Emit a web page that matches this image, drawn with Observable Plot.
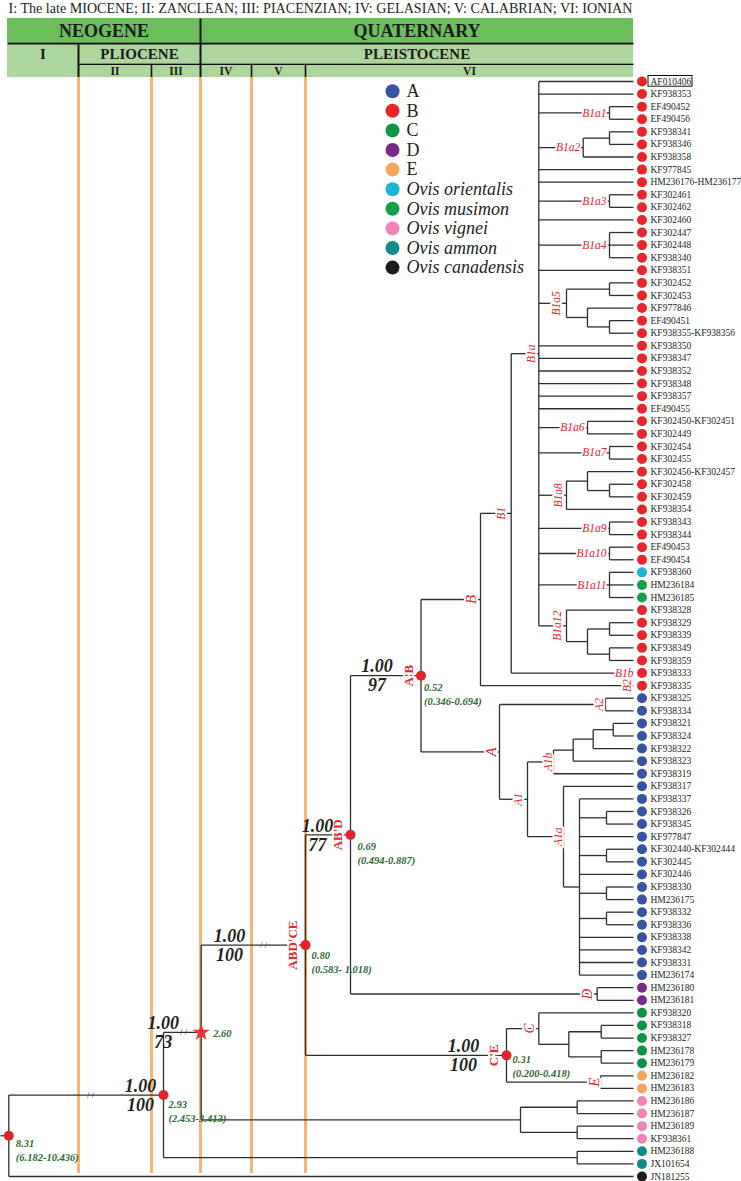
<!DOCTYPE html>
<html><head><meta charset="utf-8">
<script src="https://cdn.jsdelivr.net/npm/d3@7"></script>
<script src="https://cdn.jsdelivr.net/npm/@observablehq/plot@0.6"></script>
<style>body{margin:0;background:#fff}#chart svg{display:block}</style>
</head><body><div id="chart"></div>
<script>
// ---------------- DATA ----------------
const title = "I: The late MIOCENE; II: ZANCLEAN; III: PIACENZIAN; IV: GELASIAN; V: CALABRIAN; VI: IONIAN";
// stage boundaries on the tree's depth axis (left edge of I ... present)
const stageEdges = [7, 78, 151, 200, 251, 305, 633];
const stageNames = ["I", "II", "III", "IV", "V", "VI"];
const epochNames = ["I", "PLIOCENE", "PLEISTOCENE"];
const epochSpan = [[0, 1], [1, 3], [3, 6]];
const eraNames = ["NEOGENE", "QUATERNARY"];
const eraSpan = [[0, 3], [3, 6]];

// internal nodes: [id, parent, depth position]
const internalNodes = [
  ["root", null, 8.3], ["n293", "root", 163], ["star", "n293", 200.7],
  ["abdce", "star", 305], ["abd", "abdce", 350], ["ab", "abd", 420.5],
  ["B", "ab", 480], ["B1", "B", 510.7], ["B1a", "B1", 538.3],
  ["B1a1", "B1a", 609], ["B1a2", "B1a", 582.7], ["B1a2i", "B1a2", 609],
  ["B1a3", "B1a", 609], ["B1a4", "B1a", 609],
  ["B1a5", "B1a", 566], ["B1a5a", "B1a5", 609], ["B1a5b", "B1a5", 587], ["B1a5c", "B1a5b", 609],
  ["B1a6", "B1a", 587], ["B1a7", "B1a", 609],
  ["B1a8", "B1a", 566], ["B1a8a", "B1a8", 587], ["B1a8b", "B1a8a", 609],
  ["B1a9", "B1a", 609], ["B1a10", "B1a", 609], ["B1a11", "B1a", 609],
  ["B1a12", "B1a", 566], ["B1a12a", "B1a12", 587], ["B1a12b", "B1a12a", 609], ["B1a12c", "B1a12a", 609],
  ["A", "ab", 499], ["A2", "A", 605], ["A1", "A", 527],
  ["A1b", "A1", 553], ["A1b1", "A1b", 572.7], ["A1b2", "A1b1", 592.7], ["A1b3", "A1b2", 612.7],
  ["A1a", "A1", 563], ["A1a1", "A1a", 579], ["A1a2", "A1a1", 606], ["A1a3", "A1a1", 606],
  ["A1a4", "A1a1", 606], ["A1a5", "A1a1", 606],
  ["D", "abd", 596.7],
  ["CE", "abdce", 506], ["C", "CE", 538.3], ["C1", "C", 568.3], ["C2", "C1", 600.7], ["C3", "C1", 600.7],
  ["E", "CE", 600],
  ["vig", "star", 520], ["vig1", "vig", 576.7], ["vig2", "vig", 576.7],
  ["amm", "n293", 576.7]
];

const leafNames = [
  "AF010406","KF938353","EF490452","EF490456","KF938341","KF938346","KF938358","KF977845",
  "HM236176-HM236177","KF302461","KF302462","KF302460","KF302447","KF302448","KF938340","KF938351",
  "KF302452","KF302453","KF977846","EF490451","KF938355-KF938356","KF938350","KF938347","KF938352",
  "KF938348","KF938357","EF490455","KF302450-KF302451","KF302449","KF302454","KF302455","KF302456-KF302457",
  "KF302458","KF302459","KF938354","KF938343","KF938344","EF490453","EF490454","KF938360",
  "HM236184","HM236185","KF938328","KF938329","KF938339","KF938349","KF938359","KF938333",
  "KF938335","KF938325","KF938334","KF938321","KF938324","KF938322","KF938323","KF938319",
  "KF938317","KF938337","KF938326","KF938345","KF977847","KF302440-KF302444","KF302445","KF302446",
  "KF938330","HM236175","KF938332","KF938336","KF938338","KF938342","KF938331","HM236174",
  "HM236180","HM236181","KF938320","KF938318","KF938327","HM236178","HM236179","HM236182",
  "HM236183","HM236186","HM236187","HM236189","KF938361","HM236188","JX101654","JN181255"
];
const leafParents = [
  "B1a","B1a","B1a1","B1a1","B1a2i","B1a2i","B1a2","B1a",
  "B1a","B1a3","B1a3","B1a","B1a4","B1a4","B1a4","B1a",
  "B1a5a","B1a5a","B1a5b","B1a5c","B1a5c","B1a","B1a","B1a",
  "B1a","B1a","B1a","B1a6","B1a6","B1a7","B1a7","B1a8a",
  "B1a8b","B1a8b","B1a8","B1a9","B1a9","B1a10","B1a10","B1a11",
  "B1a11","B1a11","B1a12","B1a12b","B1a12b","B1a12c","B1a12c","B1",
  "B","A2","A2","A1b3","A1b3","A1b2","A1b1","A1b",
  "A1a","A1a1","A1a2","A1a2","A1a1","A1a3","A1a3","A1a1",
  "A1a4","A1a4","A1a5","A1a5","A1a1","A1a1","A1a1","A1a1",
  "D","D","C","C2","C2","C3","C3","E",
  "E","vig1","vig1","vig2","vig2","amm","amm","root"
];
const leafGroups = [
  ...Array(39).fill("B"), "orientalis", "musimon", "musimon", ...Array(7).fill("B"),
  ...Array(23).fill("A"), "D", "D", ...Array(5).fill("C"), "E", "E",
  "vignei", "vignei", "vignei", "vignei", "ammon", "ammon", "canadensis"
];
const boxedLeaves = ["AF010406"];

const cladeFlat = ["B1a1","B1a2","B1a3","B1a4","B1a6","B1a7","B1a9","B1a10","B1a11"];
const cladeUpright = ["B1a5","B1a","B1a8","B1a12","B1","B","A2","A","A1","A1b","A1a","D","C","E"];
const leafCladesFlat = [["KF938333", "B1b"]];
const leafCladesUpright = [["KF938335", "B2"]];

const nodeNames = [["ab", "A'B"], ["abd", "AB'D"], ["abdce", "ABD'CE"], ["CE", "C'E"]];
const dottedNodes = ["root", "n293", "abdce", "abd", "ab", "CE"];
const starNodes = ["star"];
const supports = [["ab","1.00","97"],["abd","1.00","77"],["abdce","1.00","100"],["CE","1.00","100"],["star","1.00","73"],["n293","1.00","100"]];
const ages = [["ab","0.52","(0.346-0.694)"],["abd","0.69","(0.494-0.887)"],["abdce","0.80","(0.583- 1.018)"],
  ["CE","0.31","(0.200-0.418)"],["star","2.60",""],["n293","2.93","(2.453-3.413)"],["root","8.31","(6.182-10.436)"]];
const breakNodes = ["n293", "star", "abdce"];

const legendLabels = ["A","B","C","D","E","Ovis orientalis","Ovis musimon","Ovis vignei","Ovis ammon","Ovis canadensis"];
const legendGroups = ["A","B","C","D","E","orientalis","musimon","vignei","ammon","canadensis"];

// ---------------- STYLE / LAYOUT ----------------
const colors = {A:"#3853a3", B:"#e7262c", C:"#0e9347", D:"#7c2a8a", E:"#f8a55c",
  orientalis:"#1cb3d5", musimon:"#12a04a", vignei:"#ee85b7", ammon:"#118a8a", canadensis:"#1b1b1b"};
const RED = "#e8262b", GREEN_TXT = "#2e6a33", INK = "#231f20", ORANGE = "#f6b573";
const SERIF = "'Liberation Serif','Times New Roman',serif";
const W = 741, H = 1181;
const TIP = 633, LEAF_TOP = 81, LEAF_STEP = 12.586;
const rows = {r1: [18, 42.5], r2: [44, 63], r3: [64.5, 77]};
const supportDx = {ab:-44, abd:-33, abdce:-76, CE:-43, star:-38, n293:-23};
const ageOff = {ab:[3,12], abd:[7,12], abdce:[6,11], CE:[6,4], star:[12,1], n293:[5,10], root:[7,7.5]};
const breakX = {n293: 90, star: 183, abdce: 263};
const uprightDx = {B1a5:-10, B1a:-7, B1a8:-8.5, B1a12:-9, B1:-10, B:-9, A2:-6, A:-8, A1:-9, A1b:-5.5, A1a:-5.5, D:-10.5, C:-10, E:-6.5};
const bigClades = ["A","B","C","D","E"];

// ---------------- TREE LAYOUT ----------------
const nodes = new Map();
internalNodes.forEach(([id, parent, x]) => nodes.set(id, {id, parent, x, children: [], leaf: false}));
leafNames.forEach((name, i) => nodes.set(name, {id: name, parent: leafParents[i], x: TIP,
  y: LEAF_TOP + i * LEAF_STEP, leaf: true, group: leafGroups[i], children: []}));
for (const n of nodes.values()) if (n.parent) nodes.get(n.parent).children.push(n);
function setY(n) { if (n.leaf) return n.y; const ys = n.children.map(setY); n.y = (Math.min(...ys) + Math.max(...ys)) / 2; return n.y; }
const root = nodes.get("root");
setY(root);

const segs = [];
for (const n of nodes.values()) {
  if (n.parent) { const p = nodes.get(n.parent); segs.push({x1: p.x, y1: n.y, x2: n.x, y2: n.y}); }
  if (!n.leaf) { const ys = n.children.map(c => c.y); segs.push({x1: n.x, y1: Math.min(...ys), x2: n.x, y2: Math.max(...ys)}); }
}
segs.push({x1: 0, y1: root.y, x2: root.x, y2: root.y});
const leaves = leafNames.map(n => nodes.get(n));
const N = id => nodes.get(id);

// header cells
const cell = (label, a, b, r, fill, fs) => ({label, x1: stageEdges[a], x2: stageEdges[b], y1: r[0], y2: r[1], fill, fs});
const headerCells = [
  ...eraNames.map((l, i) => cell(l, eraSpan[i][0], eraSpan[i][1], rows.r1, "#6bbf5b", 18)),
  ...epochNames.map((l, i) => cell(l, epochSpan[i][0], epochSpan[i][1], i === 0 ? [rows.r2[0], rows.r3[1]] : rows.r2, "#acd69c", 15)),
  ...stageNames.slice(1).map((l, i) => cell(l, i + 1, i + 2, rows.r3, "#acd69c", 11.5))
];
headerCells.find(c => c.label === "I").ty = (rows.r2[0] + rows.r2[1]) / 2;
const first = stageEdges[0], last = stageEdges[6];
const headerLines = [
  {x1: first, x2: last, y1: rows.r1[1] + 0.5, y2: rows.r1[1] + 0.5, w: 2},
  {x1: stageEdges[1], x2: last, y1: (rows.r2[1] + rows.r3[0]) / 2, y2: (rows.r2[1] + rows.r3[0]) / 2, w: 1.6},
  {x1: stageEdges[3], x2: stageEdges[3], y1: rows.r1[0], y2: rows.r3[1], w: 2},
  {x1: stageEdges[1], x2: stageEdges[1], y1: rows.r2[0], y2: rows.r3[1], w: 2},
  ...[2, 4, 5].map(i => ({x1: stageEdges[i], x2: stageEdges[i], y1: rows.r3[0], y2: rows.r3[1], w: 1.6}))
];

const legendData = legendLabels.map((l, i) => ({label: l, group: legendGroups[i], i}));
const LEG_X = 392, LEG_Y = 90.7, LEG_STEP = 19.6;
const isSpecies = d => d.label.startsWith("Ovis");

const txt = {fontFamily: SERIF};
const halo = {stroke: "white", strokeWidth: 4, paintOrder: "stroke"};

const plot = Plot.plot({
  width: W, height: H, margin: 0,
  x: {domain: [0, W], range: [0, W], axis: null},
  y: {domain: [0, H], range: [0, H], axis: null},
  color: {type: "identity"},
  style: {fontFamily: SERIF, background: "white"},
  marks: [
    // title
    Plot.text([title], {x: first + 1, y: 8, text: d => d, textAnchor: "start", fontSize: 14.1, fill: INK, ...txt}),
    // header
    Plot.rect(headerCells, {x1: "x1", x2: "x2", y1: "y1", y2: "y2", fill: "fill"}),
    Plot.link(headerLines, {x1: "x1", x2: "x2", y1: "y1", y2: "y2", stroke: "#111", strokeWidth: "w"}),
    Plot.text(headerCells, {x: d => (d.x1 + d.x2) / 2, y: d => d.ty ?? (d.y1 + d.y2) / 2, text: "label",
      fontSize: "fs", fontWeight: "bold", fill: "#1a1a1a", ...txt}),
    // stage boundaries
    Plot.ruleX(stageEdges.slice(1, 6), {y1: rows.r3[1], y2: H - 8, stroke: ORANGE, strokeWidth: 3}),
    // tree branches
    Plot.link(segs, {x1: "x1", y1: "y1", x2: "x2", y2: "y2", stroke: "#2f2f2f", strokeWidth: 1.3}),
    // break marks
    Plot.text(breakNodes, {x: d => breakX[d], y: d => N(d).y, text: () => "/ /", fontSize: 9, letterSpacing: -2, fill: "#333", ...txt}),
    // clade labels
    Plot.text(cladeFlat, {x: d => N(d).x - 3, y: d => N(d).y, text: d => d, textAnchor: "end",
      fontSize: 11.5, fontStyle: "italic", fill: RED, ...halo, ...txt}),
    Plot.text(leafCladesFlat, {x: d => N(d[0]).x, y: d => N(d[0]).y, text: d => d[1], textAnchor: "end",
      fontSize: 11.5, fontStyle: "italic", fill: RED, ...halo, ...txt}),
    Plot.text(cladeUpright.filter(d => !bigClades.includes(d)), {x: d => N(d).x + uprightDx[d], y: d => N(d).y, text: d => d, rotate: -90,
      fontSize: 11.5, fontStyle: "italic", fill: RED, ...halo, ...txt}),
    Plot.text(cladeUpright.filter(d => bigClades.includes(d)), {x: d => N(d).x + uprightDx[d], y: d => N(d).y, text: d => d, rotate: -90,
      fontSize: 15, fontStyle: "italic", fill: RED, ...halo, ...txt}),
    Plot.text(leafCladesUpright, {x: d => N(d[0]).x - 6, y: d => N(d[0]).y, text: d => d[1], rotate: -90,
      fontSize: 11.5, fontStyle: "italic", fill: RED, ...halo, ...txt}),
    // node names
    Plot.text(nodeNames, {x: d => N(d[0]).x - 12.5, y: d => N(d[0]).y, text: d => d[1], rotate: -90,
      fontSize: 13, fontWeight: "bold", fill: RED, ...halo, ...txt}),
    // supports
    Plot.text(supports, {x: d => N(d[0]).x + supportDx[d[0]], y: d => N(d[0]).y - 9, text: d => d[1],
      fontSize: 18, fontWeight: "bold", fontStyle: "italic", fill: INK, ...txt}),
    Plot.text(supports, {x: d => N(d[0]).x + supportDx[d[0]], y: d => N(d[0]).y + 10, text: d => d[2],
      fontSize: 18, fontWeight: "bold", fontStyle: "italic", fill: INK, ...txt}),
    // ages
    Plot.text(ages, {x: d => N(d[0]).x + ageOff[d[0]][0], y: d => N(d[0]).y + ageOff[d[0]][1], text: d => d[1],
      textAnchor: "start", fontSize: 10.5, fontWeight: "bold", fontStyle: "italic", fill: GREEN_TXT, ...txt}),
    Plot.text(ages, {x: d => N(d[0]).x + ageOff[d[0]][0], y: d => N(d[0]).y + ageOff[d[0]][1] + 14, text: d => d[2],
      textAnchor: "start", fontSize: 10.5, fontWeight: "bold", fontStyle: "italic", fill: GREEN_TXT, ...txt}),
    // node markers
    Plot.dot(dottedNodes, {x: d => N(d).x, y: d => N(d).y, r: 5, fill: "#e1232a", stroke: "none"}),
    Plot.dot(starNodes, {x: d => N(d).x, y: d => N(d).y, r: 5.5, symbol: "star", fill: "#ec3333", stroke: "none"}),
    // leaves
    Plot.dot(leaves, {x: d => d.x + 8.5, y: "y", r: 5, fill: d => colors[d.group], stroke: "none"}),
    Plot.rect(leaves.filter(d => boxedLeaves.includes(d.id)), {x1: d => d.x + 15, x2: d => d.x + 59,
      y1: d => d.y - 5.5, y2: d => d.y + 5.2, fill: "none", stroke: "#111", strokeWidth: 1}),
    Plot.text(leaves, {x: d => d.x + 17, y: "y", text: "id", textAnchor: "start", fontSize: 9.5, fill: INK, ...txt}),
    // legend
    Plot.dot(legendData, {x: () => LEG_X, y: d => LEG_Y + d.i * LEG_STEP, r: 7, fill: d => colors[d.group], stroke: "none"}),
    Plot.text(legendData.filter(d => !isSpecies(d)), {x: () => LEG_X + 14, y: d => LEG_Y + d.i * LEG_STEP, text: "label",
      textAnchor: "start", fontSize: 18, fill: INK, ...txt}),
    Plot.text(legendData.filter(isSpecies), {x: () => LEG_X + 14, y: d => LEG_Y + d.i * LEG_STEP, text: "label",
      textAnchor: "start", fontSize: 18, fontStyle: "italic", fill: INK, ...txt})
  ]
});
document.getElementById("chart").append(plot);
</script>
</body></html>
